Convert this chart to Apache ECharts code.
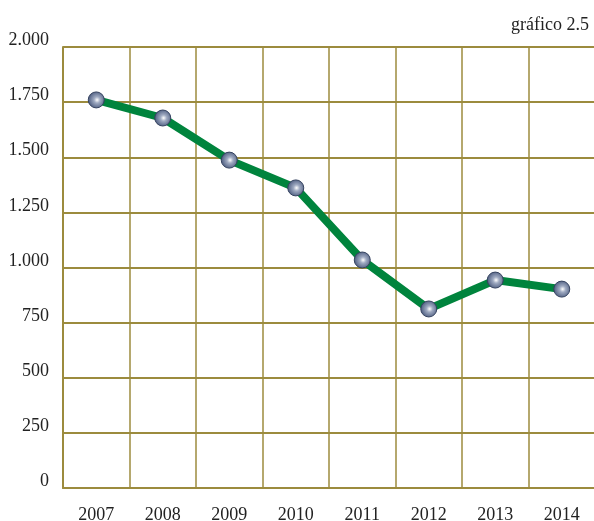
<!DOCTYPE html>
<html>
<head>
<meta charset="utf-8">
<script src="https://cdn.jsdelivr.net/npm/echarts@6/dist/echarts.min.js"></script>
<style>
  html, body { margin: 0; padding: 0; background: #ffffff; }
  #chart { width: 594px; height: 521px; }
</style>
</head>
<body>
<div id="chart"></div>
<script>
var years = ["2007", "2008", "2009", "2010", "2011", "2012", "2013", "2014"];
var values = [1760, 1678, 1487, 1361, 1034, 812, 943, 902];
var yTicks = [0, 250, 500, 750, 1000, 1250, 1500, 1750, 2000];

var gridColor = "#9c8b3e";
var font = "'Liberation Serif', 'DejaVu Serif', serif";

function fmt(v) {
  // miles con punto
  return String(v).replace(/\B(?=(\d{3})+(?!\d))/g, ".");
}

var myChart = echarts.init(document.getElementById("chart"));
myChart.setOption({
  animation: false,
  title: {
    text: "gráfico 2.5",
    right: 0,
    top: 11,
    textStyle: { fontFamily: font, fontSize: 18, fontWeight: "normal", color: "#222" }
  },
  grid: { left: 63, right: -1, top: 47, bottom: 33, containLabel: false, outerBoundsMode: "none" },
  xAxis: {
    type: "category",
    data: years,
    boundaryGap: true,
    axisLine: { show: true, lineStyle: { color: gridColor, width: 2 } },
    axisTick: { show: false },
    splitLine: { show: true, lineStyle: { color: gridColor, width: 1.5 } },
    axisLabel: { fontFamily: font, fontSize: 18, color: "#222", margin: 18 }
  },
  yAxis: {
    type: "value",
    min: yTicks[0],
    max: yTicks[yTicks.length - 1],
    interval: 250,
    axisLine: { show: true, lineStyle: { color: gridColor, width: 2 } },
    axisTick: { show: false },
    splitLine: { show: true, lineStyle: { color: gridColor, width: 2 } },
    axisLabel: {
      fontFamily: font, fontSize: 18, color: "#222", margin: 14,
      verticalAlign: "bottom",
      lineHeight: 13,
      formatter: function (v) { return fmt(v); }
    }
  },
  series: [
    {
      type: "line",
      data: values,
      lineStyle: { color: "#00843d", width: 8 },
      symbol: "circle",
      symbolSize: 16,
      z: 3,
      itemStyle: {
        color: {
          type: "radial", x: 0.55, y: 0.5, r: 0.6,
          colorStops: [
            { offset: 0, color: "#ffffff" },
            { offset: 0.3, color: "#a0abc2" },
            { offset: 1, color: "#3a4a70" }
          ]
        },
        borderColor: "#34425f",
        borderWidth: 1
      }
    }
  ]
});
</script>
</body>
</html>
